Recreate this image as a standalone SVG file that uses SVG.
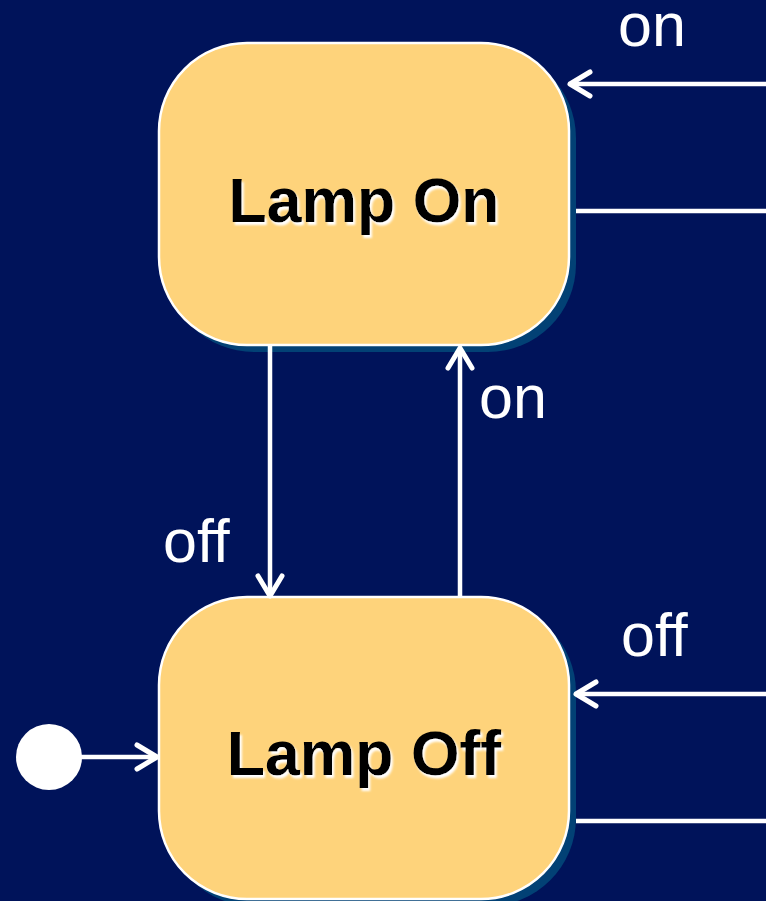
<svg xmlns="http://www.w3.org/2000/svg" width="766" height="901" viewBox="0 0 766 901">
<style>
.node-shadow{fill:#024175;}
.node-box{fill:#FED37B;stroke:#FFFFFF;stroke-width:2.5;}
.node-label{font-family:"Liberation Sans",Arial,sans-serif;font-weight:bold;font-size:62.5px;fill:#000000;text-anchor:middle;filter:url(#glow);}
.edge{stroke:#FFFFFF;stroke-width:4.5;fill:none;}
.edge-label{font-family:"Liberation Sans",Arial,sans-serif;font-size:61px;fill:#FFFFFF;}
</style>
<defs>
<filter id="glow" x="-10%" y="-20%" width="120%" height="150%">
<feDropShadow dx="2" dy="3" stdDeviation="1.2" flood-color="#FFFFFF" flood-opacity="1"/>
</filter>
<marker id="arrow" markerUnits="userSpaceOnUse" viewBox="-26 -16 30 32" refX="0" refY="0" markerWidth="30" markerHeight="32" orient="auto">
<path d="M-20,-12 L0,0 L-20,12" fill="none" stroke="#FFFFFF" stroke-width="5" stroke-linecap="round" stroke-linejoin="round"/>
</marker>
</defs>
<rect width="766" height="901" fill="#00135A"/>
<g id="lamp-on">
<rect class="node-shadow" x="166" y="50" width="410" height="302" rx="88" ry="88"/>
<rect class="node-box" x="159" y="43" width="410" height="302" rx="88" ry="88"/>
<text class="node-label" x="364" y="222">Lamp On</text>
</g>
<g id="lamp-off">
<rect class="node-shadow" x="166" y="604" width="410" height="302" rx="88" ry="88"/>
<rect class="node-box" x="159" y="597" width="410" height="302" rx="88" ry="88"/>
<text class="node-label" x="364" y="775">Lamp Off</text>
</g>
<g id="initial">
<circle cx="49" cy="757" r="33" fill="#FFFFFF"/>
</g>
<g id="connectors">
<line class="edge" x1="766" y1="84" x2="570" y2="84" marker-end="url(#arrow)"/>
<line class="edge" x1="576" y1="211" x2="766" y2="211"/>
<line class="edge" x1="270" y1="346" x2="270" y2="596" marker-end="url(#arrow)"/>
<line class="edge" x1="460" y1="597" x2="460" y2="348" marker-end="url(#arrow)"/>
<line class="edge" x1="766" y1="694" x2="576" y2="694" marker-end="url(#arrow)"/>
<line class="edge" x1="576" y1="821" x2="766" y2="821"/>
<line class="edge" x1="80" y1="757" x2="157" y2="757" marker-end="url(#arrow)"/>
<text class="edge-label" x="618" y="46">on</text>
<text class="edge-label" x="479" y="418">on</text>
<text class="edge-label" x="163" y="562">off</text>
<text class="edge-label" x="621" y="656">off</text>
</g>
</svg>
